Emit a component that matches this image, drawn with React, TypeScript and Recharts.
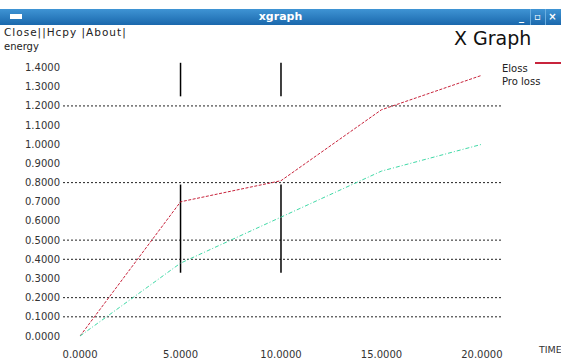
import { LineChart, Line, XAxis, YAxis, ReferenceLine } from 'recharts';

const times = [0, 5, 10, 15, 20];
const eloss = [0, 0.7, 0.81, 1.18, 1.36];
const proLoss = [0, 0.38, 0.62, 0.86, 1.0];
const xTicks = [0, 5, 10, 15, 20];
const yTicks = [0, 0.1, 0.2, 0.3, 0.4, 0.5, 0.6, 0.7, 0.8, 0.9, 1.0, 1.1, 1.2, 1.3, 1.4];
const gridLevels = [0.1, 0.2, 0.4, 0.5, 0.8, 1.2];
const barTimes = [5, 10];
const barRanges = [
  [0.33, 0.79],
  [1.25, 1.425],
];

const data = times.map((t, i) => ({ t, eloss: eloss[i], proLoss: proLoss[i] }));

const FONT = '"DejaVu Sans", sans-serif';

function XTick(props: any) {
  const { x, y, payload } = props;
  return (
    <text x={x} y={y + 14} textAnchor="middle" fontSize={10} fill="#333" fontFamily={FONT}>
      {Number(payload.value).toFixed(4)}
    </text>
  );
}

function YTick(props: any) {
  const { x, y, payload } = props;
  return (
    <text x={x} y={y} dy={3.5} textAnchor="end" fontSize={10} fill="#333" fontFamily={FONT}>
      {Number(payload.value).toFixed(4)}
    </text>
  );
}

const btn = { position: 'absolute' as const, top: 0, width: 13, height: 16, color: '#fff', fontSize: 10, fontWeight: 'bold' as const, textAlign: 'center' as const, lineHeight: '15px' };

export default function App() {
  return (
    <div
      style={{
        position: 'absolute',
        left: 0,
        top: 0,
        width: 561,
        height: 363,
        background: '#fff',
        overflow: 'hidden',
        fontFamily: FONT,
      }}
    >
      {/* window title bar */}
      <div
        style={{
          position: 'absolute',
          left: 0,
          top: 9,
          width: 561,
          height: 16,
          background: 'linear-gradient(#3f94d4, #1a68ac)',
        }}
      >
        <div style={{ position: 'absolute', left: 10, top: 5, width: 12, height: 5, background: '#fff' }} />
        <div
          style={{
            position: 'absolute',
            left: 0,
            width: 561,
            top: 1,
            textAlign: 'center',
            color: '#fff',
            fontWeight: 'bold',
            fontSize: 11,
          }}
        >
          xgraph
        </div>
        <div style={{ ...btn, left: 515 }}>_</div>
        <div style={{ ...btn, left: 530, borderLeft: '1px solid #6aaee0' }}>▫</div>
        <div style={{ ...btn, left: 545, borderLeft: '1px solid #6aaee0' }}>×</div>
      </div>
      <div style={{ position: 'absolute', left: 4, top: 26, fontSize: 10.5, letterSpacing: 1, color: '#222' }}>
        Close||Hcpy |About|
      </div>
      <div style={{ position: 'absolute', left: 4, top: 41, fontSize: 10, color: '#222' }}>energy</div>
      <div style={{ position: 'absolute', left: 454, top: 27, fontSize: 19, color: '#111' }}>X Graph</div>

      {/* legend */}
      <div style={{ position: 'absolute', left: 535, top: 62, width: 26, height: 2, background: '#c8243c' }} />
      <div style={{ position: 'absolute', left: 502, top: 63, fontSize: 10, color: '#222' }}>Eloss</div>
      <div style={{ position: 'absolute', left: 502, top: 76, fontSize: 10, color: '#222' }}>Pro loss</div>
      <div style={{ position: 'absolute', left: 539, top: 344, fontSize: 9.5, color: '#333' }}>TIME</div>

      <LineChart
        width={561}
        height={363}
        data={data}
        style={{ position: 'absolute', left: 0, top: 0 }}
        margin={{ top: 58, right: 58, left: 0, bottom: 0 }}
      >
        <XAxis
          dataKey="t"
          type="number"
          domain={[-0.85, 21.05]}
          ticks={xTicks}
          interval={0}
          axisLine={false}
          tickLine={false}
          height={27}
          tick={<XTick />}
        />
        <YAxis
          type="number"
          domain={[0, 1.45]}
          ticks={yTicks}
          interval={0}
          axisLine={false}
          tickLine={false}
          tickSize={0}
          tickMargin={3}
          width={63}
          tick={<YTick />}
        />
        {gridLevels.map((v) => (
          <ReferenceLine key={v} y={v} stroke="#222" strokeDasharray="2 2" />
        ))}
        {barTimes.map((t) =>
          barRanges.map((r, j) => (
            <ReferenceLine
              key={`${t}-${j}`}
              segment={[
                { x: t, y: r[0] },
                { x: t, y: r[1] },
              ]}
              stroke="#000"
              strokeWidth={1.5}
            />
          ))
        )}
        <Line
          dataKey="eloss"
          type="linear"
          stroke="#c8243c"
          strokeDasharray="3 1.5"
          dot={false}
          isAnimationActive={false}
        />
        <Line
          dataKey="proLoss"
          type="linear"
          stroke="#3fd9a6"
          strokeDasharray="4 2 1 2"
          dot={false}
          isAnimationActive={false}
        />
      </LineChart>
    </div>
  );
}
